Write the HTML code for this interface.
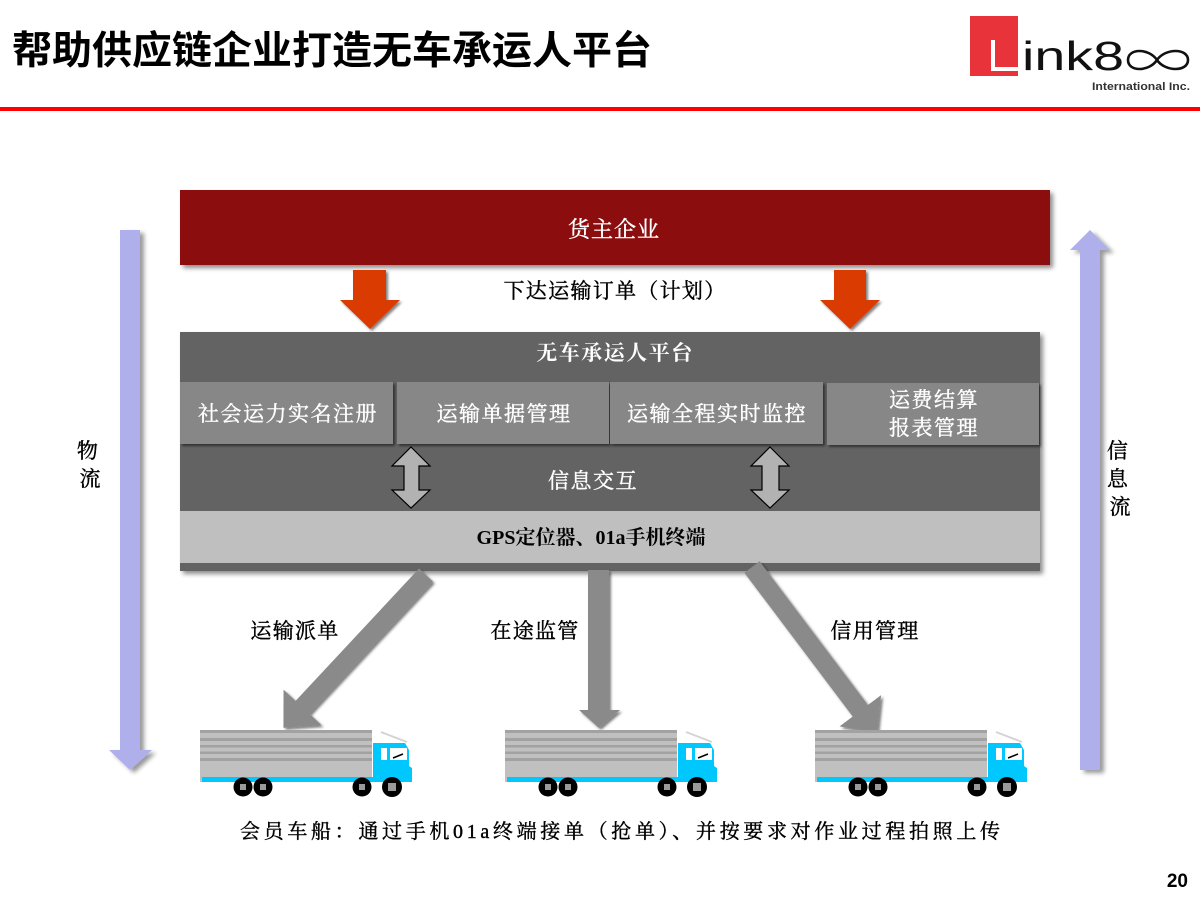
<!DOCTYPE html>
<html>
<head>
<meta charset="utf-8">
<style>
  html,body{margin:0;padding:0;background:#fff;}
  svg{display:block;}
  .serif{font-family:"Liberation Serif","Noto Serif CJK SC",serif;}
  .sans{font-family:"Liberation Sans","Noto Sans CJK SC",sans-serif;}
</style>
</head>
<body>
<svg width="1200" height="900" viewBox="0 0 1200 900" xmlns="http://www.w3.org/2000/svg">
  <defs>
    <filter id="sh" x="-10%" y="-10%" width="125%" height="140%">
      <feDropShadow dx="3" dy="3" stdDeviation="2.5" flood-color="#000" flood-opacity="0.45"/>
    </filter>
    <filter id="sh2" x="-20%" y="-10%" width="150%" height="130%">
      <feDropShadow dx="4" dy="3" stdDeviation="2" flood-color="#000" flood-opacity="0.4"/>
    </filter>
    <filter id="sh3" x="-10%" y="-10%" width="130%" height="130%">
      <feDropShadow dx="2" dy="2" stdDeviation="1.2" flood-color="#000" flood-opacity="0.5"/>
    </filter>
  </defs>

  <!-- Title -->
  <text x="12" y="64" class="sans" font-size="39" font-weight="bold" fill="#000" textLength="640" lengthAdjust="spacingAndGlyphs">帮助供应链企业打造无车承运人平台</text>

  <!-- Logo -->
  <rect x="970" y="16" width="48" height="60" fill="#e8333b"/>
  <rect x="991" y="40" width="4" height="31" fill="#fff"/>
  <rect x="991" y="67" width="27" height="4" fill="#fff"/>
  <text x="1022" y="70" class="sans" font-size="41" fill="#111" textLength="102" lengthAdjust="spacingAndGlyphs">ink8</text>
  <path d="M1157,60 C1149,48 1128,48 1128,60 C1128,72 1149,72 1157,60 C1165,48 1188,48 1188,60 C1188,72 1165,72 1157,60 Z" fill="none" stroke="#111" stroke-width="2.6"/>
  <text x="1092" y="90" class="sans" font-size="11" font-weight="bold" fill="#333" textLength="98" lengthAdjust="spacingAndGlyphs">International Inc.</text>

  <!-- Red rule -->
  <rect x="0" y="107" width="1200" height="4" fill="#ff0000"/>

  <!-- Side arrows -->
  <polygon points="120,230 140,230 140,750 152,750 130,770 109,750 120,750" fill="#afafeb" filter="url(#sh2)"/>
  <polygon points="1090,230 1110,250 1100,250 1100,770 1080,770 1080,250 1070,250" fill="#afafeb" filter="url(#sh2)"/>
  <text class="serif" font-size="21" fill="#000" stroke="#000" stroke-width="0.4" text-anchor="middle">
    <tspan x="90" y="458">物</tspan>
    <tspan x="90" y="486">流</tspan>
  </text>
  <text class="serif" font-size="21" fill="#000" stroke="#000" stroke-width="0.4" text-anchor="middle">
    <tspan x="1120" y="458">信</tspan>
    <tspan x="1120" y="486">息</tspan>
    <tspan x="1120" y="514">流</tspan>
  </text>

  <!-- Top box -->
  <rect x="180" y="190" width="870" height="75" fill="#8b0709" filter="url(#sh)"/>
  <text x="614" y="237" class="serif" font-size="22" fill="#fff" stroke="#fff" stroke-width="0.4" text-anchor="middle" letter-spacing="1">货主企业</text>

  <!-- Red arrows -->
  <polygon points="353,270 386,270 386,300 400,300 370,329 340,300 353,300" fill="#d93a06" filter="url(#sh3)"/>
  <polygon points="834,270 866,270 866,300 880,300 850,329 820,300 834,300" fill="#d93a06" filter="url(#sh3)"/>
  <text x="615" y="298" class="serif" font-size="21" fill="#000" stroke="#000" stroke-width="0.4" text-anchor="middle" letter-spacing="1.3">下达运输订单（计划）</text>

  <!-- Platform -->
  <rect x="180" y="332" width="860" height="239" fill="#636363" filter="url(#sh)"/>
  <text x="615" y="360" class="serif" font-size="21" font-weight="bold" fill="#fff" text-anchor="middle" letter-spacing="1.5">无车承运人平台</text>

  <g filter="url(#sh3)">
    <rect x="180" y="382" width="213" height="62" fill="#878787"/>
    <rect x="397" y="382" width="212" height="62" fill="#878787"/>
    <rect x="610" y="382" width="213" height="62" fill="#878787"/>
    <rect x="827" y="383" width="212" height="62" fill="#878787"/>
  </g>
  <g class="serif" font-size="21" fill="#fff" stroke="#fff" stroke-width="0.4" text-anchor="middle" letter-spacing="1.5">
    <text x="288" y="421">社会运力实名注册</text>
    <text x="504" y="421">运输单据管理</text>
    <text x="717" y="421">运输全程实时监控</text>
    <text x="934" y="407">运费结算</text>
    <text x="934" y="435">报表管理</text>
  </g>

  <text x="593" y="488" class="serif" font-size="21" fill="#fff" stroke="#fff" stroke-width="0.4" text-anchor="middle" letter-spacing="1.5">信息交互</text>

  <!-- Double arrows -->
  <polygon points="411,447 430,466 419,466 419,490 430,490 411,508 392,490 404,490 404,466 392,466" fill="#b2b2b2" stroke="#000" stroke-width="1.2"/>
  <polygon points="770,447 789,466 779,466 779,490 789,490 770,508 751,490 762,490 762,466 751,466" fill="#b2b2b2" stroke="#000" stroke-width="1.2"/>

  <!-- Light band -->
  <rect x="180" y="511" width="860" height="52" fill="#bfbfbf"/>
  <text x="591" y="544" class="serif" font-size="20" font-weight="bold" fill="#000" text-anchor="middle">GPS定位器、01a手机终端</text>

  <!-- Diagonal / vertical gray arrows -->
  <g fill="#8a8a8a" filter="url(#sh3)">
    <g transform="translate(426,575) rotate(43)">
      <polygon points="-9.5,0 9.5,0 9.5,181 26,181 0,209 -26,181 -9.5,181"/>
    </g>
    <polygon points="588,570 609,570 609,710 620,710 599,728 579,710 588,710"/>
    <g transform="translate(752,567) rotate(-37)">
      <polygon points="-9.5,0 9.5,0 9.5,180 26,180 0,208 -26,180 -9.5,180"/>
    </g>
  </g>

  <g class="serif" font-size="21" fill="#000" stroke="#000" stroke-width="0.4" text-anchor="middle" letter-spacing="1.3">
    <text x="295" y="638">运输派单</text>
    <text x="535" y="638">在途监管</text>
    <text x="875" y="638">信用管理</text>
  </g>

  <!-- Trucks -->
  <g transform="translate(200,720)">
    <rect x="0" y="10" width="172" height="52" fill="#c0c0c0"/>
    <rect x="0" y="10" width="172" height="3" fill="#a2a2a2"/>
    <rect x="0" y="18" width="172" height="3" fill="#a2a2a2"/>
    <rect x="0" y="25" width="172" height="2.5" fill="#a2a2a2"/>
    <rect x="0" y="31.5" width="172" height="2.5" fill="#a2a2a2"/>
    <rect x="0" y="38" width="172" height="3" fill="#a2a2a2"/>
    <rect x="2" y="57" width="210" height="5" fill="#00c8ff"/>
    <polygon points="173,23 205,23 209,30 209,46 212,48 212,62 173,62" fill="#00c8ff"/>
    <line x1="181" y1="12" x2="207" y2="22" stroke="#d4d4d4" stroke-width="2"/>
    <rect x="181" y="28" width="6" height="12" fill="#fff"/>
    <rect x="190" y="28" width="17" height="12" fill="#fff"/>
    <line x1="193" y1="38" x2="203" y2="34" stroke="#000" stroke-width="1.5"/>
    <g fill="#000">
      <circle cx="43" cy="67" r="9.5"/><circle cx="63" cy="67" r="9.5"/>
      <circle cx="162" cy="67" r="9.5"/><circle cx="192" cy="67" r="10"/>
    </g>
    <g fill="#9a9a9a">
      <rect x="40" y="64" width="6" height="6"/><rect x="60" y="64" width="6" height="6"/>
      <rect x="159" y="64" width="6" height="6"/><rect x="188" y="63" width="8" height="8"/>
    </g>
  </g>
  <g transform="translate(505,720)">
    <rect x="0" y="10" width="172" height="52" fill="#c0c0c0"/>
    <rect x="0" y="10" width="172" height="3" fill="#a2a2a2"/>
    <rect x="0" y="18" width="172" height="3" fill="#a2a2a2"/>
    <rect x="0" y="25" width="172" height="2.5" fill="#a2a2a2"/>
    <rect x="0" y="31.5" width="172" height="2.5" fill="#a2a2a2"/>
    <rect x="0" y="38" width="172" height="3" fill="#a2a2a2"/>
    <rect x="2" y="57" width="210" height="5" fill="#00c8ff"/>
    <polygon points="173,23 205,23 209,30 209,46 212,48 212,62 173,62" fill="#00c8ff"/>
    <line x1="181" y1="12" x2="207" y2="22" stroke="#d4d4d4" stroke-width="2"/>
    <rect x="181" y="28" width="6" height="12" fill="#fff"/>
    <rect x="190" y="28" width="17" height="12" fill="#fff"/>
    <line x1="193" y1="38" x2="203" y2="34" stroke="#000" stroke-width="1.5"/>
    <g fill="#000">
      <circle cx="43" cy="67" r="9.5"/><circle cx="63" cy="67" r="9.5"/>
      <circle cx="162" cy="67" r="9.5"/><circle cx="192" cy="67" r="10"/>
    </g>
    <g fill="#9a9a9a">
      <rect x="40" y="64" width="6" height="6"/><rect x="60" y="64" width="6" height="6"/>
      <rect x="159" y="64" width="6" height="6"/><rect x="188" y="63" width="8" height="8"/>
    </g>
  </g>
  <g transform="translate(815,720)">
    <rect x="0" y="10" width="172" height="52" fill="#c0c0c0"/>
    <rect x="0" y="10" width="172" height="3" fill="#a2a2a2"/>
    <rect x="0" y="18" width="172" height="3" fill="#a2a2a2"/>
    <rect x="0" y="25" width="172" height="2.5" fill="#a2a2a2"/>
    <rect x="0" y="31.5" width="172" height="2.5" fill="#a2a2a2"/>
    <rect x="0" y="38" width="172" height="3" fill="#a2a2a2"/>
    <rect x="2" y="57" width="210" height="5" fill="#00c8ff"/>
    <polygon points="173,23 205,23 209,30 209,46 212,48 212,62 173,62" fill="#00c8ff"/>
    <line x1="181" y1="12" x2="207" y2="22" stroke="#d4d4d4" stroke-width="2"/>
    <rect x="181" y="28" width="6" height="12" fill="#fff"/>
    <rect x="190" y="28" width="17" height="12" fill="#fff"/>
    <line x1="193" y1="38" x2="203" y2="34" stroke="#000" stroke-width="1.5"/>
    <g fill="#000">
      <circle cx="43" cy="67" r="9.5"/><circle cx="63" cy="67" r="9.5"/>
      <circle cx="162" cy="67" r="9.5"/><circle cx="192" cy="67" r="10"/>
    </g>
    <g fill="#9a9a9a">
      <rect x="40" y="64" width="6" height="6"/><rect x="60" y="64" width="6" height="6"/>
      <rect x="159" y="64" width="6" height="6"/><rect x="188" y="63" width="8" height="8"/>
    </g>
  </g>

  <!-- Bottom caption -->
  <text x="620" y="838" class="serif" font-size="20" fill="#000" stroke="#000" stroke-width="0.4" text-anchor="middle" textLength="760" lengthAdjust="spacing">会员车船：通过手机01a终端接单（抢单）、并按要求对作业过程拍照上传</text>

  <!-- Page number -->
  <text x="1188" y="887" class="sans" font-size="19" font-weight="bold" fill="#000" text-anchor="end">20</text>
</svg>
</body>
</html>
